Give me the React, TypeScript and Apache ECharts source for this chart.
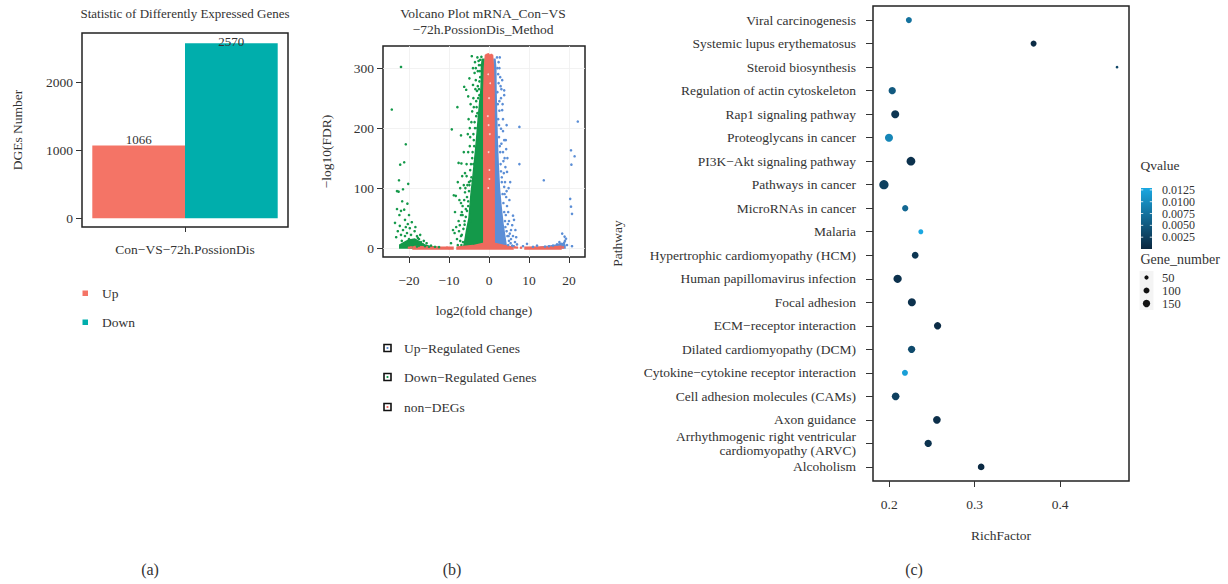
import React, { useEffect, useRef } from "react";
import * as echarts from "echarts";

const FONT = "'Liberation Serif', 'DejaVu Serif', serif";
const TXT = "#333";

// ---------- Panel (a): bar chart ----------
const barCategory = ["Con−VS−72h.PossionDis"];
const upCount = [1066];
const downCount = [2570];
const barYTicks = [0, 1000, 2000];
const barLegend = ["Up", "Down"];

// ---------- Panel (b): volcano ----------
const volcanoXTicks = [-20, -10, 0, 10, 20];
const volcanoYTicks = [0, 100, 200, 300];
const volcanoLegend = ["Up−Regulated Genes", "Down−Regulated Genes", "non−DEGs"];

// dense cores (outlines of the solid clouds)
const downDense: number[][][] = [
  [[-1.25, 0], [-6.4, 0], [-6.1, 10], [-5.6, 30], [-5.0, 50], [-4.5, 90], [-4.0, 120], [-3.4, 160], [-3.0, 190], [-2.7, 215], [-2.3, 245], [-2.0, 265], [-1.9, 285], [-1.9, 300], [-1.7, 315], [-1.25, 315]],
  [[-22.3, 0], [-22.3, 5], [-21.3, 9], [-20.2, 13], [-18.6, 15], [-17.5, 11], [-16.5, 6], [-15, 3], [-13, 1], [-13, 0]],
];
const upDense: number[][][] = [
  [[1.25, 0], [4.4, 0], [4.2, 8], [3.5, 40], [3.0, 70], [2.6, 100], [2.3, 140], [2.05, 180], [1.9, 220], [1.75, 263], [1.7, 300], [1.5, 315], [1.25, 315]],
  [[13, 0], [13, 1.5], [15, 3], [17, 5], [18, 8], [18.8, 7], [19, 4], [19, 0]],
];
const nonDense: number[][][] = [
  [[-1.3, 0], [-1.3, 260], [-1.15, 300], [-0.9, 321], [0.9, 321], [1.1, 300], [1.25, 260], [1.3, 0]],
  [[-8, -1.5], [-8, 1.5], [-4, 4], [-1.3, 8], [1.3, 8], [4, 4], [6, 1.5], [6, -1.5]],
  [[-19, -1.5], [-19, 2.5], [-16, 2], [-12, 1.2], [-9, 1.2], [-9, -1.5]],
  [[9, -1.5], [9, 1.2], [13, 1.5], [16, 2], [18, 3], [18, -1.5]],
];

const downScatter: number[][] = [
  [-22, 302], [-24.3, 231], [-20.8, 173], [-21.2, 143], [-22.2, 139], [-22.5, 113], [-20.2, 107], [-23, 95], [-22.6, 94], [-21.5, 98],
  [-21.7, 78], [-20.4, 74], [-23, 65], [-22, 62], [-20, 55], [-23.5, 42], [-21, 47], [-19.3, 43], [-22.3, 37], [-20.8, 35],
  [-21.5, 30], [-19.8, 33], [-22.8, 28], [-20.5, 25], [-18.6, 28], [-21, 20], [-19.5, 22], [-18, 20], [-22, 22], [-20, 15],
  [-18.8, 13], [-17.5, 15], [-19.5, 10], [-21, 8], [-18, 8], [-17, 10], [-16.5, 6], [-19, 5], [-20.5, 4], [-17.5, 4],
  [-16, 3], [-15, 2], [-18, 2.5], [-19.8, 13], [-21.8, 12], [-17.8, 17], [-22.4, 55], [-21.2, 64], [-23.2, 18], [-20.3, 40],
  [-18.4, 35], [-17.2, 22], [-16.3, 12], [-15.6, 8], [-14.5, 4], [-13.5, 2], [-12.5, 1.5],
  [-9.3, 198], [-7.9, 235], [-4.3, 320], [-3.5, 310], [-4.9, 283], [-6.2, 269], [-5.7, 264], [-4, 272], [-3.3, 280], [-5.2, 253],
  [-3.2, 245], [-2.8, 295], [-2.5, 305], [-2.2, 314], [-2.6, 312], [-7.0, 188], [-6.9, 141], [-7.6, 142], [-8.3, 87], [-8.8, 88],
  [-7, 75], [-6, 93], [-5.5, 85], [-5.8, 65], [-6.6, 55], [-5, 110], [-4.7, 130], [-4.2, 150], [-4.8, 170], [-3.9, 190],
  [-3.6, 210], [-4.2, 228], [-6.1, 39], [-7, 20], [-5.4, 30], [-4.6, 45], [-7.3, 38], [-6.5, 10], [-7.8, 5], [-5.3, 15],
  [-3.8, 235], [-3.0, 262], [-2.4, 278], [-3.6, 292], [-4.8, 200], [-5.6, 120], [-6.3, 105], [-7.2, 100], [-6.8, 60], [-7.5, 28],
  [-8.6, 25], [-9.5, 8], [-3.9, 140], [-4.4, 118], [-5.2, 70], [-2.9, 225], [-2.4, 255], [-3.7, 170], [-2.9, 200], [-1.9, 319],
  [-6.9, 5], [-7.2, 12], [-6.8, 22], [-6.4, 32], [-6.1, 45], [-5.8, 52], [-5.5, 62], [-5.2, 78], [-5.0, 95], [-4.9, 105],
  [-4.6, 112], [-4.5, 140], [-4.1, 160], [-3.8, 180], [-3.5, 200], [-3.2, 220], [-3.1, 235], [-2.7, 250], [-2.5, 265], [-2.2, 285],
  [-2.3, 295], [-2.0, 305], [-8.0, 15], [-7.6, 45], [-7.0, 55], [-6.6, 70], [-6.2, 80], [-5.9, 100], [-5.6, 140], [-5.2, 160],
  [-4.7, 185], [-4.4, 210], [-3.9, 250], [-3.4, 265], [-2.8, 270], [-6.0, 125], [-5.4, 105], [-7.8, 110], [-8.5, 60], [-9.0, 30],
  [-8.2, 35], [-6.3, 160], [-5.1, 215], [-4.6, 240], [-3.3, 300], [-2.9, 318], [-4.0, 300], [-5.3, 190], [-6.7, 120], [-7.4, 80],
];

const upScatter: number[][] = [
  [2.0, 318], [2.7, 318], [2.4, 310], [2.1, 300], [2.8, 285], [3.3, 280], [3.8, 263], [3.8, 255], [3.0, 250], [2.6, 229],
  [3.5, 215], [4.4, 205], [3.0, 199], [3.1, 174], [3.8, 180], [4.3, 165], [2.8, 160], [3.6, 145], [4.1, 135], [4.5, 127],
  [4.9, 100], [3.8, 102], [6.0, 54], [6.25, 47], [4.5, 70], [5.2, 24], [5.5, 30], [6.0, 20], [6.5, 10], [7.6, 202],
  [7.6, 140], [13.7, 113], [9.5, 7], [12, 4], [20.5, 163], [21.4, 153], [20.6, 139], [22.2, 211], [20.3, 82], [20.5, 69],
  [20.75, 57], [20.75, 3], [18.3, 24], [18.9, 19], [19.25, 15.5], [17.6, 10], [19, 12], [17, 6], [16, 4], [15, 3],
  [14, 2.5], [18.8, 9], [19.5, 5], [3.2, 110], [3.9, 90], [4.2, 55], [3.4, 240], [2.9, 270], [4.1, 35], [5.5, 15],
  [7, 6], [8.5, 3], [11, 2], [3.5, 195], [4.6, 150], [2.5, 205], [5.1, 80], [4.7, 40],
  [4.8, 5], [5.0, 12], [4.6, 20], [4.4, 28], [4.0, 45], [3.8, 60], [3.6, 75], [3.4, 90], [3.2, 118], [3.0, 128],
  [2.9, 140], [2.7, 170], [2.5, 185], [2.3, 215], [2.2, 240], [2.1, 260], [2.4, 275], [2.3, 290], [5.4, 8], [5.8, 4],
  [6.2, 3], [5.0, 45], [4.8, 60], [4.3, 85], [4.0, 110], [3.7, 125], [3.5, 160], [3.3, 230], [2.6, 245], [5.8, 38],
  [6.6, 30], [6.8, 18], [4.4, 95], [5.3, 110], [3.9, 150], [4.9, 20], [2.6, 300], [3.1, 265], [4.2, 180],
];

const nonScatter: number[][] = [
  [-10.5, 0.5], [-10, 0], [-7.5, 0.5], [-6.8, 1], [7, 0.8], [8, 0.5], [6.5, 1], [-19.5, 1], [-20, 0.5], [18.5, 1],
  [-0.6, 322], [0.6, 322], [-0.2, 323], [0.2, 321],
];
const nonLight: number[][] = [
  [-0.2, 100], [0.1, 130], [-0.1, 160], [0.2, 190], [-0.3, 220], [0.0, 250], [0.3, 275], [-0.2, 290], [0.1, 115], [-0.1, 205],
];

// ---------- Panel (c): KEGG enrichment dot plot ----------
const pathways = [
  "Viral carcinogenesis",
  "Systemic lupus erythematosus",
  "Steroid biosynthesis",
  "Regulation of actin cytoskeleton",
  "Rap1 signaling pathway",
  "Proteoglycans in cancer",
  "PI3K−Akt signaling pathway",
  "Pathways in cancer",
  "MicroRNAs in cancer",
  "Malaria",
  "Hypertrophic cardiomyopathy (HCM)",
  "Human papillomavirus infection",
  "Focal adhesion",
  "ECM−receptor interaction",
  "Dilated cardiomyopathy (DCM)",
  "Cytokine−cytokine receptor interaction",
  "Cell adhesion molecules (CAMs)",
  "Axon guidance",
  "Arrhythmogenic right ventricular\ncardiomyopathy (ARVC)",
  "Alcoholism",
];
const richFactor = [0.223, 0.369, 0.4667, 0.2035, 0.207, 0.1997, 0.2254, 0.1938, 0.2187, 0.237, 0.2304, 0.2098, 0.2265, 0.2566, 0.2262, 0.2184, 0.2075, 0.2558, 0.2456, 0.3076];
const qvalue = [0.0075, 0.0005, 0.003, 0.005, 0.0015, 0.0095, 0.001, 0.0025, 0.0065, 0.0128, 0.0015, 0.001, 0.001, 0.0005, 0.0035, 0.012, 0.0025, 0.0008, 0.0012, 0.0003];
const geneNumber = [100, 100, 20, 148, 178, 178, 210, 240, 110, 69, 125, 190, 178, 148, 148, 100, 165, 165, 148, 125];
const richTicks = [0.2, 0.3, 0.4];
const qTicks = [0.0125, 0.01, 0.0075, 0.005, 0.0025];
const sizeTicks = [50, 100, 150];

const Q_MIN = 0;
const Q_MAX = 0.0129;
const Q_LOW = "#0B2740";
const Q_HIGH = "#1AA8E2";
const sizeOf = (n: number) => 0.6 * Math.sqrt(n);

const GREEN = "#14994A";
const BLUE = "#5B8ED6";
const RED = "#EE6A5E";

function polySeries(polys: number[][][], color: string) {
  return {
    type: "custom",
    xAxisIndex: 1,
    yAxisIndex: 1,
    silent: true,
    clip: true,
    z: 3,
    data: polys.map((p) => p[0]),
    renderItem: (params: any, api: any) => {
      const poly = polys[params.dataIndex];
      return {
        type: "polygon",
        shape: { points: poly.map((pt) => api.coord(pt)) },
        style: { fill: color, stroke: color, lineWidth: 1.5 },
      };
    },
  };
}

function txt(text: string, x: number, y: number, size: number, align = "left", extra: any = {}) {
  return {
    type: "text",
    x,
    y,
    silent: true,
    style: { text, fill: TXT, fontSize: size, fontFamily: FONT, align, verticalAlign: "middle", ...extra },
  };
}

export default function App() {
  const ref = useRef<HTMLDivElement>(null);
  useEffect(() => {
    if (!ref.current) return;
    const chart = echarts.init(ref.current, undefined, { renderer: "svg" });

    const FS = 13.5;
    const axisLabelBase = { color: TXT, fontFamily: FONT, fontSize: FS, showMinLabel: true, showMaxLabel: true, hideOverlap: false };
    const tickStyle = { lineStyle: { color: "#333", width: 1 } };
    const nameStyle = { fontFamily: FONT, fontSize: 13.5, color: TXT };

    const qY = (q: number) => 249 - ((q - Q_MIN) / (Q_MAX - Q_MIN)) * 61;

    const graphics: any[] = [
      // titles
      txt("Statistic of Differently Expressed Genes", 185, 13, 13, "center"),
      txt("Volcano Plot mRNA_Con−VS", 483, 13, 13.5, "center"),
      txt("−72h.PossionDis_Method", 483, 29, 13.5, "center"),
      // panel (a) legend
      ...barLegend.flatMap((name, i) => [
        { type: "rect", silent: true, shape: { x: 82.5, y: 290.5 + i * 29, width: 5.5, height: 5.5 }, style: { fill: i === 0 ? "#F47466" : "#00AEAC" } },
        txt(name, 102, 293.5 + i * 29, 13.5),
      ]),
      // panel (b) legend
      ...volcanoLegend.flatMap((name, i) => {
        const y = [348, 377, 407][i];
        const c = [BLUE, GREEN, RED][i];
        return [
          { type: "rect", silent: true, shape: { x: 384, y: y - 3.5, width: 7, height: 7 }, style: { fill: "#fff", stroke: "#111", lineWidth: 1.6 } },
          { type: "circle", silent: true, shape: { cx: 387.5, cy: y, r: 1.1 }, style: { fill: c } },
          txt(name, 404, y, 13.5),
        ];
      }),
      // panel (c) legend
      txt("Qvalue", 1140.5, 165, 13.5),
      {
        type: "rect",
        silent: true,
        shape: { x: 1141, y: 188, width: 11, height: 61 },
        style: {
          fill: {
            type: "linear", x: 0, y: 0, x2: 0, y2: 1,
            colorStops: [{ offset: 0, color: Q_HIGH }, { offset: 1, color: Q_LOW }],
          },
        },
      },
      ...qTicks.flatMap((q) => [
        { type: "line", silent: true, shape: { x1: 1141, y1: qY(q), x2: 1143.2, y2: qY(q) }, style: { stroke: "#fff", lineWidth: 0.8 } },
        { type: "line", silent: true, shape: { x1: 1149.8, y1: qY(q), x2: 1152, y2: qY(q) }, style: { stroke: "#fff", lineWidth: 0.8 } },
        txt(q.toFixed(4), 1162, qY(q), 12),
      ]),
      txt("Gene_number", 1140.5, 259.5, 14),
      { type: "rect", silent: true, shape: { x: 1139.5, y: 271, width: 14, height: 39 }, style: { fill: "#F4F4F4" } },
      ...sizeTicks.flatMap((n, i) => {
        const y = [277.5, 290.5, 303.5][i];
        return [
          { type: "circle", silent: true, shape: { cx: 1146.5, cy: y, r: sizeOf(n) / 2 }, style: { fill: "#111" } },
          txt(String(n), 1162, y, 12.5),
        ];
      }),
      // panel labels
      txt("(a)", 150, 569, 16, "center"),
      txt("(b)", 452, 569, 16, "center"),
      txt("(c)", 914, 569, 16, "center"),
    ];

    const option: any = {
      animation: false,
      backgroundColor: "#fff",
      textStyle: { fontFamily: FONT, color: TXT },
      grid: [
        { left: 82, top: 33, width: 206, height: 194, show: true, borderColor: "#222", borderWidth: 1.5, backgroundColor: "#fff" },
        { left: 383, top: 46, width: 202, height: 211, show: true, borderColor: "#222", borderWidth: 1.5, backgroundColor: "#fff" },
        { left: 873, top: 6, width: 256, height: 475, show: true, borderColor: "#222", borderWidth: 1.5, backgroundColor: "#fff" },
      ],
      xAxis: [
        {
          gridIndex: 0,
          type: "category",
          position: "bottom",
          data: barCategory,
          axisLine: { show: false, onZero: false },
          axisTick: { show: true, alignWithLabel: true, length: 5, ...tickStyle },
          axisLabel: { ...axisLabelBase, margin: 15 },
        },
        {
          gridIndex: 1,
          type: "value",
          position: "bottom",
          min: -26.5,
          max: 24,
          name: "log2(fold change)",
          nameLocation: "middle",
          nameGap: 46,
          nameTextStyle: nameStyle,
          axisLine: { show: false, onZero: false },
          splitLine: { show: false },
          axisTick: { show: true, customValues: volcanoXTicks, length: 6, ...tickStyle },
          axisLabel: { ...axisLabelBase, customValues: volcanoXTicks, margin: 16, formatter: (v: number) => (v < 0 ? "−" + Math.abs(v) : String(v)) },
        },
        {
          gridIndex: 2,
          type: "value",
          position: "bottom",
          min: 0.181,
          max: 0.4807,
          name: "RichFactor",
          nameLocation: "middle",
          nameGap: 47,
          nameTextStyle: nameStyle,
          axisLine: { show: false, onZero: false },
          splitLine: { show: false },
          axisTick: { show: true, customValues: richTicks, length: 6, ...tickStyle },
          axisLabel: { ...axisLabelBase, customValues: richTicks, margin: 16, formatter: (v: number) => v.toFixed(1) },
        },
      ],
      yAxis: [
        {
          gridIndex: 0,
          type: "value",
          position: "left",
          min: -130,
          max: 2720,
          name: "DGEs Number",
          nameLocation: "middle",
          nameGap: 58,
          nameTextStyle: nameStyle,
          axisLine: { show: false, onZero: false },
          splitLine: { show: false },
          axisTick: { show: true, customValues: barYTicks, length: 6, ...tickStyle },
          axisLabel: { ...axisLabelBase, customValues: barYTicks, margin: 9, formatter: (v: number) => String(v) },
        },
        {
          gridIndex: 1,
          type: "value",
          position: "left",
          min: -15,
          max: 337,
          name: "−log10(FDR)",
          nameLocation: "middle",
          nameGap: 50,
          nameTextStyle: nameStyle,
          axisLine: { show: false, onZero: false },
          splitLine: { show: false },
          axisTick: { show: true, customValues: volcanoYTicks, length: 6, ...tickStyle },
          axisLabel: { ...axisLabelBase, customValues: volcanoYTicks, margin: 9, formatter: (v: number) => String(v) },
        },
        {
          gridIndex: 2,
          type: "value",
          position: "left",
          inverse: true,
          min: -0.6,
          max: 19.6,
          name: "Pathway",
          nameLocation: "middle",
          nameGap: 249,
          nameTextStyle: nameStyle,
          axisLine: { show: false, onZero: false },
          splitLine: { show: false },
          axisTick: { show: true, customValues: pathways.map((_, i) => i), length: 7, ...tickStyle },
          axisLabel: {
            ...axisLabelBase,
            customValues: pathways.map((_, i) => i),
            margin: 17,
            lineHeight: 14.5,
            formatter: (v: number) => pathways[Math.round(v)],
          },
        },
      ],
      visualMap: [
        {
          type: "continuous",
          show: false,
          seriesIndex: 10,
          dimension: 2,
          min: Q_MIN,
          max: Q_MAX,
          inRange: { color: [Q_LOW, Q_HIGH] },
        },
      ],
      series: [
        {
          type: "bar",
          name: "Up",
          xAxisIndex: 0,
          yAxisIndex: 0,
          data: upCount,
          barGap: "0%",
          barCategoryGap: "10%",
          itemStyle: { color: "#F47466" },
          label: { show: true, position: "top", distance: 0, color: TXT, fontFamily: FONT, fontSize: 13 },
        },
        {
          type: "bar",
          name: "Down",
          xAxisIndex: 0,
          yAxisIndex: 0,
          data: downCount,
          barGap: "0%",
          barCategoryGap: "10%",
          itemStyle: { color: "#00AEAC" },
          label: { show: true, position: "top", distance: -5, color: TXT, fontFamily: FONT, fontSize: 13 },
        },
        {
          type: "scatter",
          xAxisIndex: 1,
          yAxisIndex: 1,
          data: [],
          silent: true,
          z: 0,
          markLine: {
            silent: true,
            z: 0,
            symbol: "none",
            label: { show: false },
            lineStyle: { color: "#EFEFEF", type: "solid", width: 0.8 },
            data: [...volcanoXTicks.map((v) => ({ xAxis: v })), ...volcanoYTicks.map((v) => ({ yAxis: v }))],
          },
        },
        polySeries(downDense, GREEN),
        { type: "scatter", z: 3, xAxisIndex: 1, yAxisIndex: 1, data: downScatter, symbolSize: 2.6, itemStyle: { color: GREEN, opacity: 1 }, silent: true },
        polySeries(upDense, BLUE),
        { type: "scatter", z: 3, xAxisIndex: 1, yAxisIndex: 1, data: upScatter, symbolSize: 2.6, itemStyle: { color: BLUE, opacity: 1 }, silent: true },
        polySeries(nonDense, RED),
        { type: "scatter", z: 3, xAxisIndex: 1, yAxisIndex: 1, data: nonScatter, symbolSize: 2.6, itemStyle: { color: RED, opacity: 1 }, silent: true },
        { type: "scatter", z: 3, xAxisIndex: 1, yAxisIndex: 1, data: nonLight, symbolSize: 1.8, itemStyle: { color: "#FAD4CF", opacity: 1 }, silent: true },
        {
          type: "scatter",
          xAxisIndex: 2,
          yAxisIndex: 2,
          data: pathways.map((_, i) => [richFactor[i], i, qvalue[i], geneNumber[i]]),
          symbolSize: (val: number[]) => sizeOf(val[3]),
          itemStyle: { opacity: 1 },
          silent: true,
        },
      ],
      graphic: graphics,
    };

    chart.setOption(option);
    return () => chart.dispose();
  }, []);

  return <div ref={ref} style={{ position: "absolute", left: 0, top: 0, width: 1228, height: 584 }} />;
}
